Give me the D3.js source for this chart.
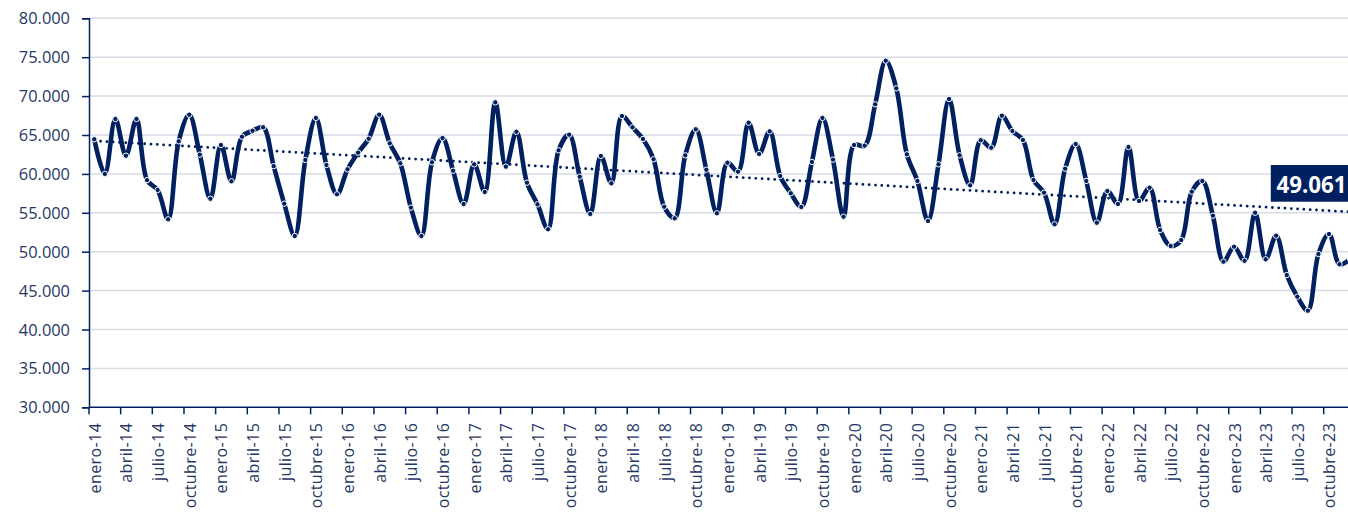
<!DOCTYPE html>
<html>
<head>
<meta charset="utf-8">
<script src="https://cdn.jsdelivr.net/npm/d3@7"></script>
<style>
  html, body { margin: 0; padding: 0; background: #ffffff; }
  svg { display: block; }
  text { font-family: "Open Sans", "Noto Sans", sans-serif; }
</style>
</head>
<body>
<svg id="chart" width="1348" height="512"></svg>
<script>
// ---- data ----
const monthNames = ["enero","febrero","marzo","abril","mayo","junio","julio","agosto","septiembre","octubre","noviembre","diciembre"];
const years = ["14","15","16","17","18","19","20","21","22","23"];
const categories = [];
years.forEach(yy => monthNames.forEach(m => categories.push(m + "-" + yy)));

const values = [
  64450, 60000, 67060, 62340, 67060, 59200, 57930, 54160, 64190, 67610, 62470, 56810,
  63710, 59050, 64780, 65550, 65990, 61000, 56170, 52020, 61790, 67190, 61140, 57380,
  60590, 62730, 64520, 67610, 63930, 61360, 55660, 52020, 61490, 64610, 60410, 56130,
  61230, 57670, 69200, 60930, 65420, 58870, 56090, 52880, 63030, 65040, 59640, 54850,
  62300, 58790, 67440, 65990, 64490, 61880, 55780, 54290, 62390, 65730, 60540, 54940,
  61440, 60280, 66580, 62560, 65470, 59730, 57510, 55750, 61530, 67190, 61830, 54500,
  63710, 63630, 68950, 74550, 71000, 62520, 59090, 53950, 61230, 69630, 62390, 58530,
  64320, 63370, 67480, 65510, 64360, 59220, 57590, 53520, 60670, 63840, 59090, 53730,
  57800, 56130, 63460, 56520, 58230, 52790, 50730, 51500, 57710, 59090, 54630, 48720,
  50640, 48840, 55010, 49020, 52060, 47000, 44220, 42420, 49700, 52270, 48380, 49061
];
const yTicks = [30000, 35000, 40000, 45000, 50000, 55000, 60000, 65000, 70000, 75000, 80000];
const xLabelStep = 3;

// ---- layout ----
const navy = "#002060";
const textColor = "#1F3864";
const plotLeft = 89, monthW = 10.553;
const plotRight = plotLeft + categories.length * monthW;
const plotTop = 18.3, plotBottom = 407.3;

const svg = d3.select("#chart");
svg.append("rect").attr("width", 1348).attr("height", 512).attr("fill", "#fff");

const x = d3.scaleBand().domain(categories).range([plotLeft, plotRight]).padding(0);
const y = d3.scaleLinear().domain([30000, 80000]).range([plotBottom, plotTop]);
const cx = c => x(c) + x.bandwidth() / 2;

const loc = d3.formatLocale({decimal: ",", thousands: ".", grouping: [3], currency: ["", ""]});
const fmt = loc.format(",.0f");

// gridlines
svg.append("g").selectAll("line")
  .data(yTicks.filter(t => t !== 30000))
  .join("line")
  .attr("x1", plotLeft).attr("x2", plotRight)
  .attr("y1", d => y(d)).attr("y2", d => y(d))
  .attr("stroke", "#D9DAE6").attr("stroke-width", 1.5);

// y axis
const yAxis = svg.append("g").attr("transform", `translate(${plotLeft},0)`)
  .call(d3.axisLeft(y).tickValues(yTicks).tickSize(7).tickPadding(12).tickFormat(fmt));
yAxis.select(".domain").attr("stroke", navy).attr("stroke-width", 1.5);
yAxis.selectAll(".tick line").attr("stroke", navy).attr("stroke-width", 1.5);
yAxis.selectAll(".tick text").attr("fill", textColor).attr("font-size", "16.4px")
  .attr("dy", "0.34em");

// x axis line
svg.append("line").attr("x1", plotLeft).attr("x2", plotRight)
  .attr("y1", plotBottom).attr("y2", plotBottom)
  .attr("stroke", navy).attr("stroke-width", 1.5);

const labelCats = categories.filter((c, i) => i % xLabelStep === 0);
// x tick marks at category boundaries
svg.append("g").selectAll("line")
  .data(labelCats)
  .join("line")
  .attr("x1", d => x(d)).attr("x2", d => x(d))
  .attr("y1", plotBottom).attr("y2", plotBottom + 7)
  .attr("stroke", navy).attr("stroke-width", 1.5);

// x labels (rotated)
svg.append("g").selectAll("text")
  .data(labelCats)
  .join("text")
  .attr("transform", d => `translate(${cx(d) + 6.5},${plotBottom + 15.5}) rotate(-90)`)
  .attr("text-anchor", "end")
  .attr("fill", textColor)
  .attr("font-size", "16px")
  .attr("letter-spacing", "0.4px")
  .text(d => d);

// trend line (least squares)
const n = values.length;
const idx = d3.range(n);
const mx = d3.mean(idx), my = d3.mean(values);
const slope = d3.sum(idx, i => (i - mx) * (values[i] - my)) / d3.sum(idx, i => (i - mx) * (i - mx));
const intercept = my - slope * mx;
svg.append("line")
  .attr("x1", cx(categories[0])).attr("y1", y(intercept))
  .attr("x2", cx(categories[n - 1])).attr("y2", y(intercept + slope * (n - 1)))
  .attr("stroke", navy).attr("stroke-width", 2.8)
  .attr("stroke-linecap", "round").attr("stroke-dasharray", "0.01 6.3");

// main line
const line = d3.line()
  .x((d, i) => cx(categories[i]))
  .y(d => y(d))
  .curve(d3.curveCatmullRom.alpha(0.5));
svg.append("path").datum(values)
  .attr("d", line)
  .attr("fill", "none").attr("stroke", navy).attr("stroke-width", 4.6)
  .attr("stroke-linejoin", "round");

// markers
svg.append("g").selectAll("circle")
  .data(values)
  .join("circle")
  .attr("cx", (d, i) => cx(categories[i]))
  .attr("cy", d => y(d))
  .attr("r", 2.7)
  .attr("fill", navy).attr("stroke", "#fff").attr("stroke-width", 1);

// last value label
const lastCat = categories[n - 1], lastVal = values[n - 1];
const bx = cx(lastCat) - 79.3, by = y(lastVal) - 94;
svg.append("rect").attr("x", bx).attr("y", by).attr("width", 92).attr("height", 36.7)
  .attr("fill", navy);
svg.append("text").attr("x", bx + 5.7).attr("y", by + 27.7)
  .attr("fill", "#fff").attr("font-size", "22.3px").attr("font-weight", "bold")
  .text(fmt(lastVal));
</script>
</body>
</html>
